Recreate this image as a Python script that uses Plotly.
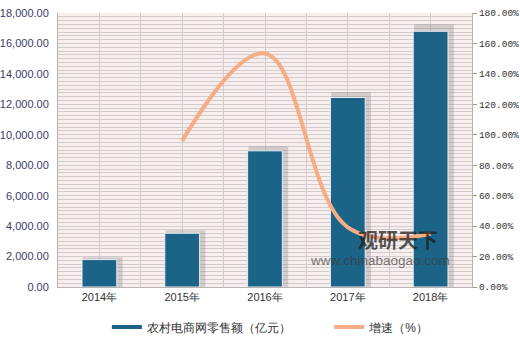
import plotly.graph_objects as go

years = ["2014年", "2015年", "2016年", "2017年", "2018年"]
sales = [1800, 3530, 8945, 12448, 16800]
growth = [None, 96.1, 153.4, 39.2, 35.0]
left_ticks = [0, 2000, 4000, 6000, 8000, 10000, 12000, 14000, 16000, 18000]
right_ticks = [0, 20, 40, 60, 80, 100, 120, 140, 160, 180]
series_names = ["农村电商网零售额（亿元）", "增速（%）"]

idx = list(range(len(years)))
BAR = "#1b6387"
LINE = "#f6ad86"
GRID = "#d3cccc"
PAD = "\u00a0" * 10

fig = go.Figure()
# soft shadow behind bars
fig.add_trace(go.Bar(
    x=idx, y=[v * 1.02 + 120 for v in sales], width=0.48, offset=-0.2,
    marker=dict(color="rgba(120,120,120,0.28)", line=dict(width=0)),
    showlegend=False, hoverinfo="skip", yaxis="y"))
fig.add_trace(go.Bar(
    x=idx, y=sales, width=0.42, name=series_names[0],
    marker=dict(color=BAR, line=dict(color="#e8eef2", width=1)), yaxis="y",
    showlegend=False))
fig.add_trace(go.Scatter(
    x=idx, y=growth, mode="lines", name=series_names[1],
    line=dict(color=LINE, width=4, shape="spline", smoothing=1.1),
    yaxis="y2", connectgaps=False, showlegend=False))
# legend entries (line-style swatches as in the reference)
fig.add_trace(go.Scatter(x=[None], y=[None], mode="lines", name=series_names[0] + PAD,
                         line=dict(color=BAR, width=4)))
fig.add_trace(go.Scatter(x=[None], y=[None], mode="lines", name=series_names[1],
                         line=dict(color=LINE, width=4)))

fig.update_layout(
    width=520, height=341,
    margin=dict(l=58, r=48, t=13, b=54, autoexpand=False),
    paper_bgcolor="white", plot_bgcolor="#f8eeee",
    barmode="overlay",
    font=dict(family="Liberation Sans, Arial", size=11, color="#333"),
    xaxis=dict(
        range=[-0.5, 4.5], tickmode="array", tickvals=idx, ticktext=years,
        showgrid=True, gridcolor=GRID, gridwidth=1,
        minor=dict(tickmode="array", tickvals=[i + 0.5 for i in idx[:-1]],
                   showgrid=True, gridcolor=GRID, gridwidth=1, ticks=""),
        showline=True, linecolor="#b8b4b4", linewidth=1, ticks="",
        tickfont=dict(size=11, color="#333"), zeroline=False, fixedrange=True,
    ),
    yaxis=dict(
        range=[0, 18000], tickmode="array", tickvals=left_ticks,
        ticktext=[f"{v:,.2f}" for v in left_ticks],
        showgrid=True, gridcolor=GRID, gridwidth=1,
        minor=dict(dtick=250, tick0=0, showgrid=True, gridcolor=GRID, gridwidth=1),
        showline=True, linecolor="#b8b4b4", linewidth=1, ticks="",
        tickfont=dict(size=11, color="#3b3b6e"), zeroline=False, ticklabelstandoff=6,
    ),
    yaxis2=dict(
        range=[0, 180], overlaying="y", side="right", tickmode="array",
        tickvals=right_ticks, ticktext=[f"{v:.2f}%" for v in right_ticks],
        showgrid=False, showline=True, linecolor="#b8b4b4", linewidth=1,
        ticks="outside", ticklen=4, tickcolor="#999",
        tickfont=dict(family="Liberation Mono, monospace", size=9.5, color="#333"),
        zeroline=False,
    ),
    legend=dict(orientation="h", x=0.118, xanchor="left", y=-0.146, yanchor="middle",
                font=dict(size=12, color="#333"), itemwidth=30,
                traceorder="normal", bgcolor="rgba(0,0,0,0)"),
    showlegend=True,
)

fig.add_annotation(xref="paper", yref="paper", x=0.72, y=0.175, text="<b>观研天下</b>",
                   showarrow=False, font=dict(size=20, color="rgba(30,30,30,0.75)",
                   family="Noto Sans CJK SC"), xanchor="left", yanchor="middle")
fig.add_annotation(xref="paper", yref="paper", x=0.605, y=0.098, text="www.chinabaogao.com",
                   showarrow=False, font=dict(size=13.5, color="rgba(60,60,60,0.7)"),
                   xanchor="left", yanchor="middle")

fig.write_html("out.html")
